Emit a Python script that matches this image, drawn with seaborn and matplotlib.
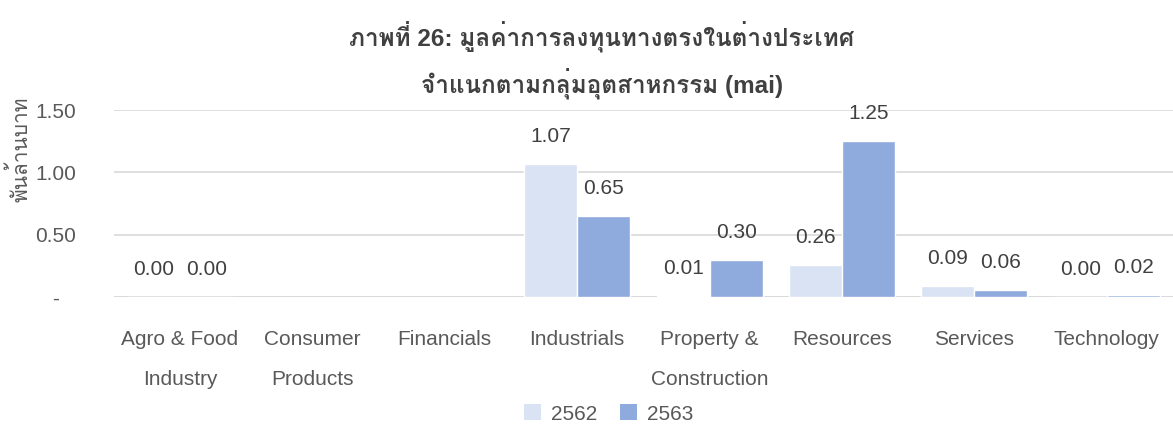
import numpy as np
import pandas as pd
import seaborn as sns
import matplotlib
matplotlib.use("Agg")
import matplotlib.pyplot as plt
from matplotlib import font_manager
from matplotlib.patches import Patch

# ข้อมูล
categories = ["Agro & Food\nIndustry", "Consumer\nProducts", "Financials", "Industrials",
              "Property &\nConstruction", "Resources", "Services", "Technology"]
years = ["2562", "2563"]
values_2562 = [0.00, np.nan, np.nan, 1.07, 0.01, 0.26, 0.09, 0.00]
values_2563 = [0.00, np.nan, np.nan, 0.65, 0.30, 1.25, 0.06, 0.02]
title_1 = "ภาพที่ 26: มูลค่าการลงทุนทางตรงในต่างประเทศ"
title_2 = "จำแนกตามกลุ่มอุตสาหกรรม (mai)"
y_label = "พันล้านบาท"
colors = ["#DAE3F3", "#8FAADC"]


# หา font ที่มีอักษรไทย
def thai_family():
    try:
        from fontTools.ttLib import TTFont
    except Exception:
        return None
    for f in font_manager.fontManager.ttflist:
        try:
            tt = TTFont(f.fname, fontNumber=0, lazy=True)
            cmap = tt.getBestCmap()
            if cmap and 0x0E20 in cmap and 0x0E48 in cmap:
                return f.name
        except Exception:
            pass
    return None


sns.set_style("white")
fams = ["Liberation Sans"]
th = thai_family()
if th:
    fams.append(th)
fams.append("DejaVu Sans")
plt.rcParams["font.family"] = fams

df = pd.DataFrame({
    "category": categories * 2,
    "year": [years[0]] * len(categories) + [years[1]] * len(categories),
    "value": values_2562 + values_2563,
})

fig = plt.figure(figsize=(11.73, 4.25), dpi=100)
ax = fig.add_axes([0.097, 0.301, 0.903, 0.44])

sns.barplot(data=df, x="category", y="value", hue="year", order=categories,
            hue_order=years, palette=colors, width=0.8, ax=ax, legend=False,
            errorbar=None, saturation=1)

for cont in ax.containers:
    labs = ["" if np.isnan(v) else f"{v:.2f}" for v in cont.datavalues]
    ax.bar_label(cont, labels=labs, padding=13, fontsize=15, color="#404040")

ax.set_ylim(0, 1.5)
ax.set_xlim(-0.5, 7.5)
ax.set_yticks([0, 0.5, 1.0, 1.5])
ax.set_yticklabels(["-", "0.50", "1.00", "1.50"])
ax.yaxis.grid(True, color="#D9D9D9", linewidth=1.2)
ax.set_axisbelow(True)
for s in ax.spines.values():
    s.set_visible(False)
ax.axhline(0, color="#D9D9D9", linewidth=1.2, zorder=0.5)
ax.tick_params(axis="y", length=0, labelsize=15, labelcolor="#595959", pad=42)
ax.tick_params(axis="x", length=0, labelsize=15, labelcolor="#595959", pad=23.5)
for t in ax.get_xticklabels():
    t.set_linespacing(2.42)
for t in ax.get_yticklabels():
    t.set_horizontalalignment("center")

ax.set_xlabel("")
ax.set_ylabel(y_label, fontsize=15, color="#595959")
ax.yaxis.set_label_coords(-0.078, 0.79)

fig.text(0.513, 0.915, title_1, ha="center", va="center", fontsize=17.5,
         fontweight="bold", color="#404040")
fig.text(0.513, 0.805, title_2, ha="center", va="center", fontsize=17.5,
         fontweight="bold", color="#404040")

handles = [Patch(facecolor=c, edgecolor="none") for c in colors]
fig.legend(handles, years, loc="center", bbox_to_anchor=(0.519, 0.026),
           ncol=2, frameon=False, fontsize=15, handlelength=0.8,
           handleheight=0.8, handletextpad=0.5, columnspacing=1.1,
           labelcolor="#595959")

fig.savefig("out.png", dpi=100)
